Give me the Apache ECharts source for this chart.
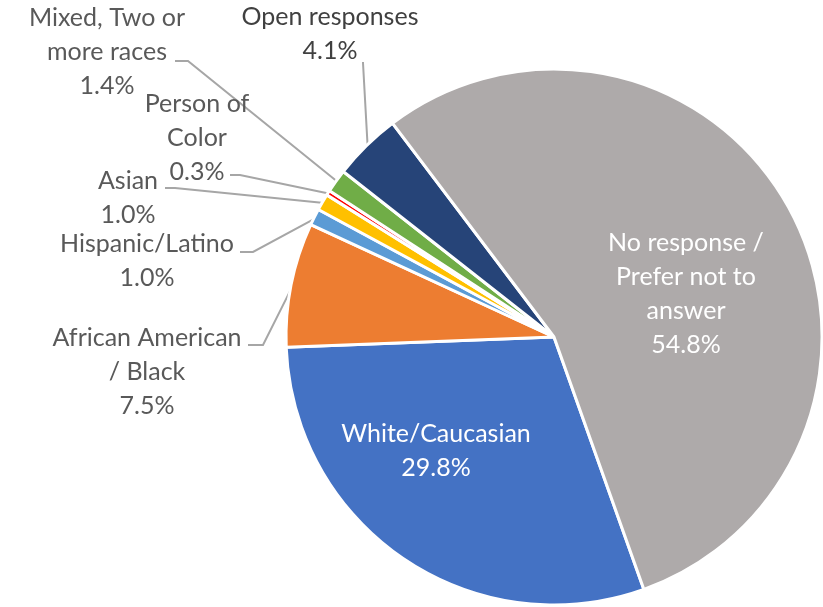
<!DOCTYPE html>
<html>
<head>
<meta charset="utf-8">
<script src="https://cdn.jsdelivr.net/npm/echarts@6/dist/echarts.min.js"></script>
<style>
  html, body { margin: 0; padding: 0; background: #ffffff; }
  #chart { width: 823px; height: 607px; }
</style>
</head>
<body>
<div id="chart"></div>
<script>
// Survey answers: race / ethnicity, share of respondents (%)
const categories = [
  'White/Caucasian',
  'African American / Black',
  'Hispanic/Latino',
  'Asian',
  'Person of Color',
  'Mixed, Two or more races',
  'Open responses',
  'No response / Prefer not to answer'
];
// How each category name wraps in its label
const labelNames = [
  'White/Caucasian',
  'African American\n/ Black',
  'Hispanic/Latino',
  'Asian',
  'Person of\nColor',
  'Mixed, Two or\nmore races',
  'Open responses',
  'No response /\nPrefer not to\nanswer'
];
const shares = [29.8, 7.5, 1.0, 1.0, 0.3, 1.4, 4.1, 54.8];

const sliceColors = ['#4472C4', '#ED7D31', '#5B9BD5', '#FFC000', '#FF0000', '#70AD47', '#264478', '#AEAAAA'];
const labelColors = ['#ffffff', '#595959', '#595959', '#595959', '#595959', '#595959', '#404040', '#ffffff'];

// Pie geometry
const CX = 554, CY = 337, R = 268;
const START = -70.4; // degrees, ECharts convention (counter-clockwise from 3 o'clock)

// Label block centres and the two points of each leader line next to its text
const labelSpots = [
  { x: 436, y: 451 },
  { x: 147, y: 372, line: [[248, 345], [263, 345]] },
  { x: 147, y: 261, line: [[240, 252], [253, 252]] },
  { x: 128, y: 198, line: [[165, 188], [175, 188]] },
  { x: 197, y: 138, line: [[230, 175], [240, 175]] },
  { x: 107, y: 52,  line: [[175, 61], [188, 61]] },
  { x: 330, y: 34,  line: [[363, 62], [363, 63]] },
  { x: 686, y: 294 }
];

// Point on the rim at the middle of slice i
function rimPoint(i, extra) {
  const total = shares.reduce((a, b) => a + b, 0);
  let before = 0;
  for (let k = 0; k < i; k++) before += shares[k];
  const mid = START - (before + shares[i] / 2) / total * 360;
  const a = mid * Math.PI / 180;
  const r = R + extra;
  return [CX + r * Math.cos(a), CY - r * Math.sin(a)];
}

const chart = echarts.init(document.getElementById('chart'), null, { renderer: 'canvas' });

const data = categories.map((name, i) => ({
  name: name,
  value: shares[i],
  itemStyle: { color: sliceColors[i] },
  label: { color: labelColors[i] },
  labelLine: { show: !!labelSpots[i].line }
}));

chart.setOption({
  animation: false,
  backgroundColor: '#ffffff',
  series: [{
    type: 'pie',
    center: [CX, CY],
    radius: [0, R],
    startAngle: START,
    clockwise: true,
    avoidLabelOverlap: false,
    minShowLabelAngle: 0,
    itemStyle: { borderColor: '#ffffff', borderWidth: 3 },
    label: {
      show: true,
      position: 'outside',
      fontFamily: 'Lato',
      fontSize: 25,
      lineHeight: 34,
      align: 'center',
      formatter: p => labelNames[p.dataIndex] + '\n' + p.value.toFixed(1) + '%'
    },
    labelLine: {
      show: true,
      lineStyle: { color: '#A6A6A6', width: 2 }
    },
    labelLayout: function (params) {
      const i = params.dataIndex;
      const s = labelSpots[i];
      const out = { x: s.x, y: s.y, align: 'center', verticalAlign: 'middle' };
      if (s.line) {
        out.labelLinePoints = [s.line[0], s.line[1], rimPoint(i, -2)];
      }
      return out;
    },
    data: data
  }]
});
</script>
</body>
</html>
